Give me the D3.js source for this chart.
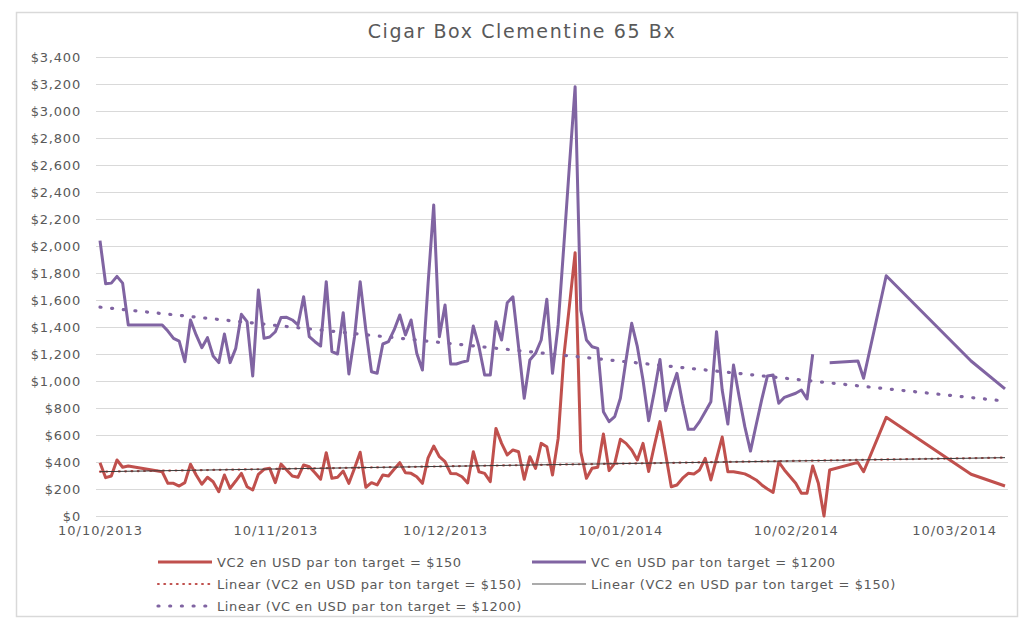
<!DOCTYPE html>
<html>
<head>
<meta charset="utf-8">
<script src="https://cdn.jsdelivr.net/npm/d3@7"></script>
<style>
  html, body { margin: 0; padding: 0; background: #ffffff; }
  svg { display: block; }
  text { font-family: "DejaVu Sans", "Open Sans", sans-serif; fill: #595959; }
</style>
</head>
<body>
<svg id="chart" width="1025" height="621"></svg>
<script>
// Observation dates, as days after the first one
const startDate = "2013-10-10";
const dayIndex = [
  0, 1, 2, 3, 4, 5, 11, 12, 13, 14, 15, 16, 17, 18, 19, 20, 21, 22, 23, 24,
  25, 26, 27, 28, 29, 30, 31, 32, 33, 34, 35, 36, 37, 38, 39, 40, 41, 42, 43, 44,
  45, 46, 47, 48, 49, 50, 51, 52, 53, 54, 55, 56, 57, 58, 59, 60, 61, 62, 63, 64,
  65, 66, 67, 68, 69, 70, 71, 72, 73, 74, 75, 76, 77, 78, 79, 80, 81, 82, 83, 84,
  85, 86, 87, 88, 89, 90, 91, 92, 93, 94, 95, 96, 97, 98, 99, 100, 101, 102, 103, 104,
  105, 106, 107, 108, 109, 110, 111, 112, 113, 114, 115, 116, 117, 118, 119, 120, 121, 123, 124, 125,
  126, 127, 128, 129, 134, 135, 139, 154, 160
];

// VC2 en USD par ton (target $150)
const vc2Values = [
  395, 284, 296, 415, 361, 370, 328, 242, 242, 222, 247, 383, 304, 235, 287, 254, 180, 304, 205, 259,
  316, 217, 193, 309, 346, 353, 247, 384, 341, 296, 287, 378, 365, 321, 272, 469, 279, 287, 333, 242,
  353, 472, 213, 247, 230, 304, 296, 346, 395, 321, 316, 291, 242, 430, 518, 439, 402, 315, 313, 291,
  245, 476, 328, 316, 254, 649, 538, 452, 489, 476, 272, 439, 353, 538, 513, 304, 575, 1180, 1560, 1950,
  476, 279, 353, 361, 607, 336, 390, 568, 538, 489, 415, 538, 330, 520, 699, 460, 217, 230, 280, 316,
  311, 341, 427, 267, 425, 585, 328, 328, 320, 312, 291, 267, 230, 200, 175, 400, 341, 242, 168, 168,
  370, 242, 0, 341, 397, 328, 731, 309, 222
];

// VC en USD par ton (target $1200); null = no value that day
const vcValues = [
  2040, 1720, 1725, 1775, 1725, 1415, 1415, 1370, 1316, 1296, 1143, 1452, 1341, 1247, 1321, 1185, 1136, 1348, 1136, 1242,
  1494, 1440, 1037, 1674, 1316, 1326, 1365, 1470, 1472, 1452, 1415, 1624, 1328, 1291, 1259, 1736, 1217, 1200, 1506, 1052,
  1328, 1736, 1378, 1069, 1057, 1274, 1291, 1378, 1489, 1341, 1452, 1205, 1081, 1720, 2304, 1328, 1563, 1126, 1126, 1140,
  1150, 1407, 1254, 1044, 1044, 1439, 1304, 1580, 1624, 1254, 872, 1156, 1205, 1304, 1605, 1057, 1415, 2000, 2600, 3180,
  1526, 1304, 1254, 1242, 773, 699, 736, 872, 1156, 1427, 1254, 1007, 705, 921, 1160, 780, 933, 1057, 835, 642,
  642, 699, 773, 847, 1365, 933, 681, 1118, 884, 662, 481, 674, 864, 1037, 1044, 835, 879, 909, 933, 867,
  1198, null, null, 1136, 1148, 1020, 1780, 1148, 941
];

const yTickValues = [0, 200, 400, 600, 800, 1000, 1200, 1400, 1600, 1800, 2000, 2200, 2400, 2600, 2800, 3000, 3200, 3400];
const xTickLabels = ["10/10/2013", "10/11/2013", "10/12/2013", "10/01/2014", "10/02/2014", "10/03/2014"];

const titleText = "Cigar Box Clementine 65 Bx";
const vc2Name = "VC2 en USD par ton target = $150";
const vcName = "VC en USD par ton target = $1200";

const RED = "#C0504D";
const PURPLE = "#8064A2";
const DARK = "#3a3a3a";

const svg = d3.select("#chart");
const parseDay = d3.timeParse("%Y-%m-%d");
const parseTick = d3.timeParse("%d/%m/%Y");
const fmtTick = d3.timeFormat("%d/%m/%Y");
const t0 = parseDay(startDate);
const dates = dayIndex.map(d => d3.timeDay.offset(t0, d));

const vc2 = dates.map((date, i) => ({ date, value: vc2Values[i] }));
const vc = dates.map((date, i) => ({ date, value: vcValues[i] }));

const x = d3.scaleTime().domain(d3.extent(dates)).range([100, 1005]);
const y = d3.scaleLinear().domain([0, 3400]).range([516, 57]);

// chart border
svg.append("rect")
  .attr("x", 16.5).attr("y", 12.5).attr("width", 1001).attr("height", 604)
  .attr("fill", "#fff").attr("stroke", "#d9d9d9").attr("stroke-width", 1.5);

// title
svg.append("text")
  .attr("x", 522).attr("y", 31)
  .attr("text-anchor", "middle").attr("dominant-baseline", "central")
  .style("font-size", "19px").style("letter-spacing", "1.6px")
  .text(titleText);

// horizontal gridlines + y labels
const yAxis = d3.axisLeft(y)
  .tickValues(yTickValues)
  .tickSize(-(1008 - 96))
  .tickPadding(15)
  .tickFormat(d => "$" + d3.format(",")(d));
const gy = svg.append("g").attr("transform", "translate(96,0)").call(yAxis);
gy.select(".domain").remove();
gy.selectAll(".tick line").attr("stroke", "#d9d9d9").attr("stroke-width", 1);
gy.selectAll(".tick text")
  .attr("fill", "#595959")
  .style("font-size", "13px").style("letter-spacing", "0.8px")
  .style("font-family", "'DejaVu Sans', sans-serif");

// x labels
const xAxis = d3.axisBottom(x)
  .tickValues(xTickLabels.map(parseTick))
  .tickSize(0)
  .tickPadding(10)
  .tickFormat(fmtTick);
const gx = svg.append("g").attr("transform", "translate(0,516)").call(xAxis);
gx.select(".domain").remove();
gx.selectAll(".tick text")
  .attr("fill", "#595959")
  .style("font-size", "13px").style("letter-spacing", "1px")
  .style("font-family", "'DejaVu Sans', sans-serif");

// least-squares linear trend over date
function linearTrend(series) {
  const pts = series.filter(d => d.value != null);
  const xs = pts.map(d => +d.date), ys = pts.map(d => d.value);
  const mx = d3.mean(xs), my = d3.mean(ys);
  const sxy = d3.sum(xs, (v, i) => (v - mx) * (ys[i] - my));
  const sxx = d3.sum(xs, v => (v - mx) * (v - mx));
  const b = sxy / sxx, a = my - b * mx;
  const ends = d3.extent(dates);
  return ends.map(dt => ({ date: dt, value: a + b * (+dt) }));
}

const line = d3.line()
  .defined(d => d.value != null)
  .x(d => x(d.date))
  .y(d => y(d.value));

const plot = svg.append("g");

// series lines
plot.append("path").datum(vc)
  .attr("d", line).attr("fill", "none")
  .attr("stroke", PURPLE).attr("stroke-width", 3).attr("stroke-linejoin", "round");

plot.append("path").datum(vc2)
  .attr("d", line).attr("fill", "none")
  .attr("stroke", RED).attr("stroke-width", 3).attr("stroke-linejoin", "round");

// trend lines
const vc2Trend = linearTrend(vc2);
const vcTrend = linearTrend(vc);

plot.append("path").datum(vcTrend)
  .attr("d", line).attr("fill", "none")
  .attr("stroke", PURPLE).attr("stroke-width", 3.2)
  .attr("stroke-linecap", "round").attr("stroke-dasharray", "1 10.7");

plot.append("path").datum(vc2Trend)
  .attr("d", line).attr("fill", "none")
  .attr("stroke", RED).attr("stroke-width", 2.2)
  .attr("stroke-linecap", "round").attr("stroke-dasharray", "0.8 5.5");

plot.append("path").datum(vc2Trend)
  .attr("d", line).attr("fill", "none")
  .attr("stroke", DARK).attr("stroke-width", 1);

// legend
const legendItems = [
  { col: 0, row: 0, label: vc2Name, stroke: RED, width: 3, dash: null, cap: "butt" },
  { col: 1, row: 0, label: vcName, stroke: PURPLE, width: 3, dash: null, cap: "butt" },
  { col: 0, row: 1, label: "Linear (" + vc2Name + ")", stroke: RED, width: 2.2, dash: "0.8 5.5", cap: "round" },
  { col: 1, row: 1, label: "Linear (" + vc2Name + ")", stroke: "#595959", width: 1.2, dash: null, cap: "butt" },
  { col: 0, row: 2, label: "Linear (" + vcName + ")", stroke: PURPLE, width: 3.2, dash: "1 10.7", cap: "round" }
];
const colX = [158, 532];
const rowY = [562, 584, 606];

const lg = svg.append("g");
legendItems.forEach(it => {
  const gx0 = colX[it.col], gy0 = rowY[it.row];
  const ln = lg.append("line")
    .attr("x1", gx0).attr("x2", gx0 + 54)
    .attr("y1", gy0).attr("y2", gy0)
    .attr("stroke", it.stroke).attr("stroke-width", it.width)
    .attr("stroke-linecap", it.cap);
  if (it.dash) ln.attr("stroke-dasharray", it.dash);
  lg.append("text")
    .attr("x", gx0 + 59).attr("y", gy0)
    .attr("dominant-baseline", "central")
    .style("font-size", "13px").style("letter-spacing", "0.6px")
    .text(it.label);
});
</script>
</body>
</html>
